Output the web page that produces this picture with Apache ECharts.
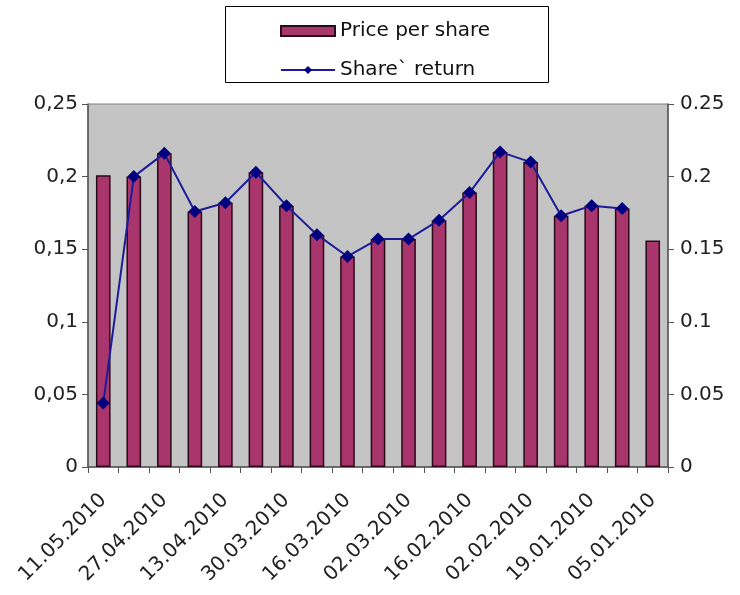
<!DOCTYPE html>
<html>
<head>
<meta charset="utf-8">
<script src="https://cdn.jsdelivr.net/npm/echarts@6/dist/echarts.min.js"></script>
<style>
  html, body { margin: 0; padding: 0; background: #fff; }
  #chart { width: 740px; height: 595px; }
</style>
</head>
<body>
<div id="chart"></div>
<script>
// Weekly dates, newest first
const categories = [
  '11.05.2010', '04.05.2010', '27.04.2010', '20.04.2010', '13.04.2010',
  '06.04.2010', '30.03.2010', '23.03.2010', '16.03.2010', '09.03.2010',
  '02.03.2010', '23.02.2010', '16.02.2010', '09.02.2010', '02.02.2010',
  '26.01.2010', '19.01.2010', '12.01.2010', '05.01.2010'
];
const pricePerShare = [
  0.201, 0.200, 0.216, 0.176, 0.182, 0.203, 0.180, 0.160, 0.145, 0.157,
  0.157, 0.170, 0.189, 0.217, 0.210, 0.173, 0.180, 0.178, 0.156
];
const shareReturn = [
  0.044, 0.200, 0.216, 0.176, 0.182, 0.203, 0.180, 0.160, 0.145, 0.157,
  0.157, 0.170, 0.189, 0.217, 0.210, 0.173, 0.180, 0.178, null
];
const yTicks = [0, 0.05, 0.1, 0.15, 0.2, 0.25];

const FONT = 'DejaVu Sans';
const chart = echarts.init(document.getElementById('chart'));

chart.setOption({
  animation: false,
  backgroundColor: '#ffffff',
  textStyle: { fontFamily: FONT },
  graphic: [{
    type: 'rect',
    shape: { x: 225.5, y: 6.5, width: 323, height: 76 },
    style: { fill: '#ffffff', stroke: '#000000', lineWidth: 1 },
    z: 0
  }],
  legend: {
    left: 275,
    top: 16,
    orient: 'vertical',
    itemWidth: 54,
    itemHeight: 10,
    itemGap: 19,
    textStyle: { fontFamily: FONT, fontSize: 20, color: '#111' },
    data: [
      { name: 'Price per share', icon: 'rect' },
      { name: 'Share` return' }
    ],
    z: 5
  },
  grid: {
    left: 88, right: 72, top: 104, bottom: 128,
    show: true,
    backgroundColor: '#c4c4c4',
    borderColor: '#808080',
    borderWidth: 1
  },
  xAxis: {
    type: 'category',
    data: categories,
    boundaryGap: true,
    axisLine: { lineStyle: { color: '#555', width: 1.5 } },
    axisTick: { show: true, interval: 0, length: 6, lineStyle: { color: '#555' } },
    axisLabel: {
      interval: 1,
      rotate: 45,
      margin: 30,
      fontFamily: FONT,
      fontSize: 20,
      color: '#222'
    }
  },
  yAxis: [
    {
      type: 'value',
      min: yTicks[0], max: yTicks[yTicks.length - 1], interval: 0.05,
      splitLine: { show: false },
      axisLine: { show: true, lineStyle: { color: '#555', width: 1.5 } },
      axisTick: { show: true, length: 6, lineStyle: { color: '#555' } },
      axisLabel: {
        fontFamily: FONT, fontSize: 20, color: '#222', margin: 10,
        formatter: v => String(+v.toFixed(2)).replace('.', ',')
      }
    },
    {
      type: 'value',
      position: 'right',
      min: yTicks[0], max: yTicks[yTicks.length - 1], interval: 0.05,
      splitLine: { show: false },
      axisLine: { show: true, lineStyle: { color: '#555', width: 1.5 } },
      axisTick: { show: true, length: 6, lineStyle: { color: '#555' } },
      axisLabel: {
        fontFamily: FONT, fontSize: 20, color: '#222', margin: 12,
        formatter: v => String(+v.toFixed(2))
      }
    }
  ],
  series: [
    {
      name: 'Price per share',
      type: 'bar',
      data: pricePerShare,
      barWidth: '48%',
      itemStyle: { color: '#a8356c', borderColor: '#2a0a18', borderWidth: 1.5 },
      z: 2
    },
    {
      name: 'Share` return',
      type: 'line',
      data: shareReturn,
      connectNulls: false,
      symbol: 'diamond',
      symbolSize: 13,
      lineStyle: { color: '#1c1c9a', width: 2 },
      itemStyle: { color: '#000080' },
      z: 3
    }
  ]
});
</script>
</body>
</html>
